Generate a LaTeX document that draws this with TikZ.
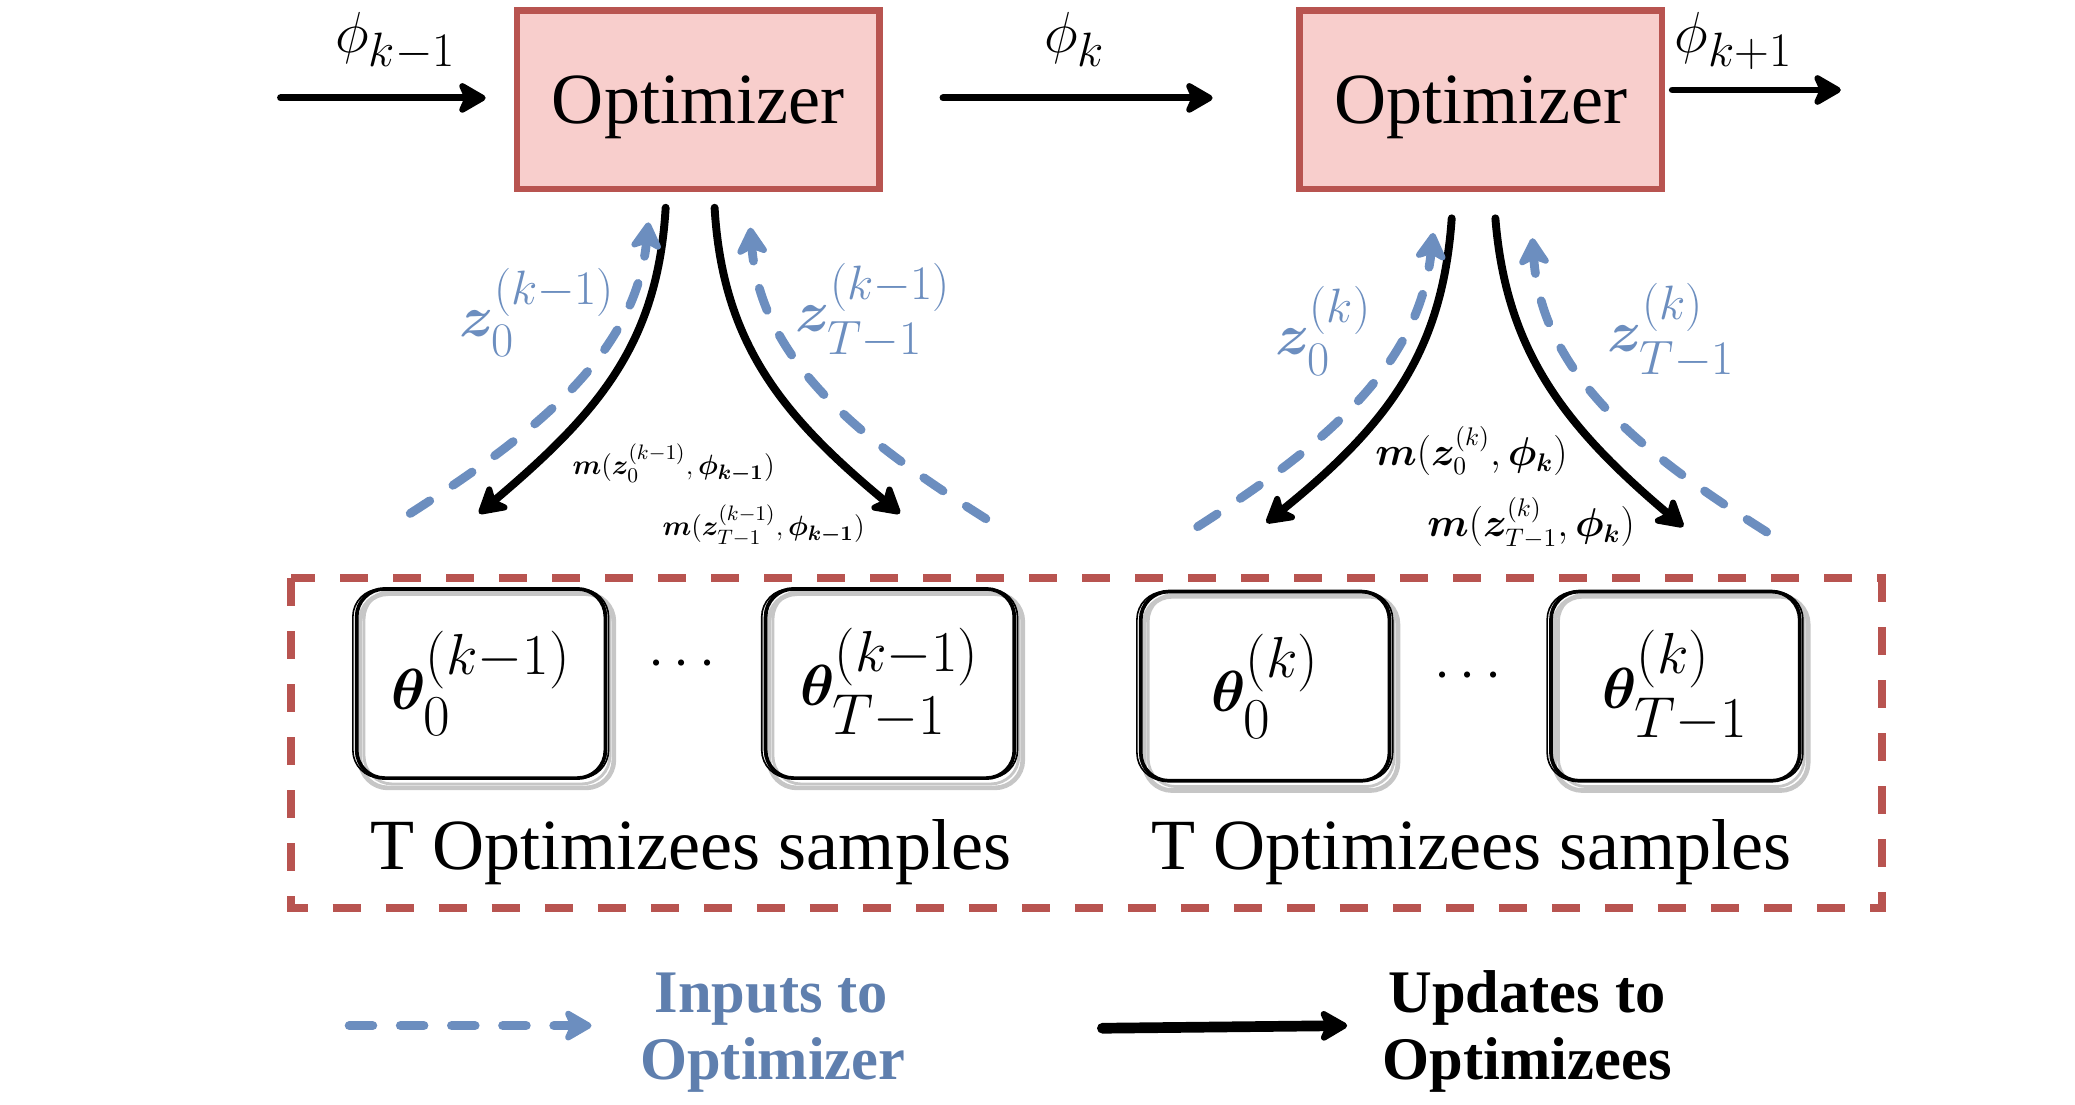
\documentclass[tikz,border=0pt]{standalone}
\usepackage{fontspec}
\setmainfont{Liberation Serif}
\usepackage{amsmath,bm}
\usetikzlibrary{arrows.meta,backgrounds}
\definecolor{redfill}{HTML}{F8CECC}
\definecolor{redline}{HTML}{B85450}
\definecolor{bluel}{HTML}{6C8EBF}
\definecolor{bluetext}{HTML}{5F7FAE}
\begin{document}
\begin{tikzpicture}[x=0.02cm,y=-0.02cm,
  opt/.style={draw=redline, fill=redfill, line width=2.8pt, minimum width=5.48cm, minimum height=2.7cm, inner sep=0pt, text depth=0pt, font=\fontsize{31}{36}\selectfont},
  tipx/.style={-{Stealth[length=14pt,width=16pt,inset=3.5pt,round]}},
  upd/.style={draw=black, line width=3pt, line cap=round, line join=round, tipx},
  inp/.style={draw=bluel, line width=3.8pt, line cap=round, line join=round, dash pattern=on 10pt off 12pt, tipx},
  skbox/.style={draw=black, line width=1.6pt, rounded corners=12pt, minimum width=3.76cm, minimum height=2.86cm, inner sep=0pt, font=\fontsize{34}{38}\selectfont},
  shadowline/.style={draw=gray!45, line width=2pt, rounded corners=12pt},
  sketchline/.style={draw=black, line width=0.7pt, rounded corners=12pt},
  phil/.style={inner sep=0pt, anchor=base, font=\fontsize{29}{33}\selectfont},
  zlbl/.style={inner sep=0pt, text=bluel, font=\fontsize{28.5}{32}\selectfont},
  msmall/.style={inner sep=0pt, font=\fontsize{13}{15}\selectfont},
  mbig/.style={inner sep=0pt, font=\fontsize{16}{19}\selectfont},
  caption/.style={inner sep=0pt, anchor=base, font=\fontsize{31}{35}\selectfont},
  legend/.style={inner sep=0pt, anchor=base, font=\fontsize{26}{30}\selectfont\bfseries}
]
\useasboundingbox (0,0) rectangle (1568,835);

% optimizer boxes
\node[opt] (opt1) at (527.5,75.5) {Optimizer};
\node[opt] (opt2) at (1119,75.5) {Optimizer};

% top flow
\coordinate (in1) at (212,74);
\coordinate (out1) at (1391,68);
\draw[upd] (in1) -- ([xshift=-12pt]opt1.west |- in1);
\draw[upd] ([xshift=26pt]opt1.east |- 0,74) -- ([xshift=-36pt]opt2.west |- 0,74);
\draw[upd] ([xshift=3pt]opt2.east |- out1) -- (out1);
\node[phil] (p1) at (299,40) {$\phi_{k-1}$};
\node[phil] (p2) at (812,40) {$\phi_{k}$};
\node[phil] (p3) at (1310,40) {$\phi_{k+1}$};

% left group curves
\coordinate (a1s) at (503,157); \coordinate (a1e) at (362,388);
\coordinate (a2s) at (540,157); \coordinate (a2e) at (680,388);
\coordinate (b1s) at (310,388); \coordinate (b1e) at (490,168);
\coordinate (b2s) at (745,392); \coordinate (b2e) at (567,172);
\draw[upd, line width=3.4pt] (a1s) .. controls (497,260) and (452,312) .. (a1e);
\draw[upd, line width=3.4pt] (a2s) .. controls (546,260) and (592,315) .. (a2e);
\draw[inp] (b1s) .. controls (400,330) and (480,270) .. (b1e);
\draw[inp] (b2s) .. controls (655,335) and (575,275) .. (b2e);

% right group curves
\coordinate (c1s) at (1097,165); \coordinate (c1e) at (957,395);
\coordinate (c2s) at (1130,165); \coordinate (c2e) at (1272,398);
\coordinate (d1s) at (905,398); \coordinate (d1e) at (1083,176);
\coordinate (d2s) at (1335,402); \coordinate (d2e) at (1158,180);
\draw[upd, line width=3.4pt] (c1s) .. controls (1090,265) and (1050,320) .. (c1e);
\draw[upd, line width=3.4pt] (c2s) .. controls (1138,265) and (1182,322) .. (c2e);
\draw[inp] (d1s) .. controls (995,340) and (1072,280) .. (d1e);
\draw[inp] (d2s) .. controls (1245,345) and (1165,285) .. (d2e);

% z labels
\node[zlbl] (z1) at (406,236) {$\boldsymbol{z}_0^{(k-1)}$};
\node[zlbl] (z2) at (660,235) {$\boldsymbol{z}_{T-1}^{(k-1)}$};
\node[zlbl] (z3) at (1000,250) {$\boldsymbol{z}_0^{(k)}$};
\node[zlbl] (z4) at (1263,250) {$\boldsymbol{z}_{T-1}^{(k)}$};

% m labels
\node[msmall] (m1) at (509,350) {$\boldsymbol{m}(\boldsymbol{z}_0^{(k-1)},\boldsymbol{\phi_{k-1}})$};
\node[msmall] (m2) at (577,397) {$\boldsymbol{m}(\boldsymbol{z}_{T-1}^{(k-1)},\boldsymbol{\phi_{k-1}})$};
\node[mbig] (m3) at (1112,341) {$\boldsymbol{m}(\boldsymbol{z}_0^{(k)},\boldsymbol{\phi_{k}})$};
\node[mbig] (m4) at (1157,395) {$\boldsymbol{m}(\boldsymbol{z}_{T-1}^{(k)},\boldsymbol{\phi_{k}})$};

% group frame
\draw[draw=redline, line width=3.4pt, dash pattern=on 12pt off 10.8pt] (220,437) rectangle (1422,686);

% optimizee boxes
\node[skbox] (t1) at (363.5,516.5) {$\boldsymbol{\theta}_0^{(k-1)}$};
\node[skbox] (t2) at (672.5,516.5) {$\boldsymbol{\theta}_{T-1}^{(k-1)}$};
\node[skbox] (t3) at (956,518.5) {$\boldsymbol{\theta}_0^{(k)}$};
\node[skbox] (t4) at (1266,518.5) {$\boldsymbol{\theta}_{T-1}^{(k)}$};
\begin{scope}[on background layer]
\foreach \t in {t1,t2,t3,t4}{
  \draw[shadowline] ([shift={(4,5)}]\t.north west) rectangle ([shift={(5,6)}]\t.south east);
  \draw[shadowline, line width=1.2pt] ([shift={(7,3)}]\t.north west) rectangle ([shift={(2,3)}]\t.south east);
}
\end{scope}
\foreach \t in {t1,t2,t3,t4}{
  \draw[sketchline] ([shift={(-1.5,1.5)}]\t.north west) rectangle ([shift={(1,-1.5)}]\t.south east);
}
\node[inner sep=0pt, anchor=base, font=\fontsize{30}{34}\selectfont] (dots1) at (519,512) {$\cdots$};
\node[inner sep=0pt, anchor=base, font=\fontsize{30}{34}\selectfont] (dots2) at (1113,521) {$\cdots$};

\node[caption] (cap1) at (522,657) {T Optimizees samples};
\node[caption] (cap2) at (1112,657) {T Optimizees samples};

% legend
\coordinate (l1a) at (264,775); \coordinate (l1b) at (447,775);
\coordinate (l2a) at (833,777); \coordinate (l2b) at (1018,775);
\draw[inp, line width=4pt, dash pattern=on 10pt off 12pt] (l1a) -- (l1b);
\draw[upd, line width=4.6pt] (l2a) -- (l2b);
\node[legend, text=bluetext] (lg1) at (583,765) {Inputs to};
\node[legend, text=bluetext] (lg2) at (584,816) {Optimizer};
\node[legend] (lg3) at (1154,765) {Updates to};
\node[legend] (lg4) at (1154,816) {Optimizees};
\end{tikzpicture}
\end{document}
